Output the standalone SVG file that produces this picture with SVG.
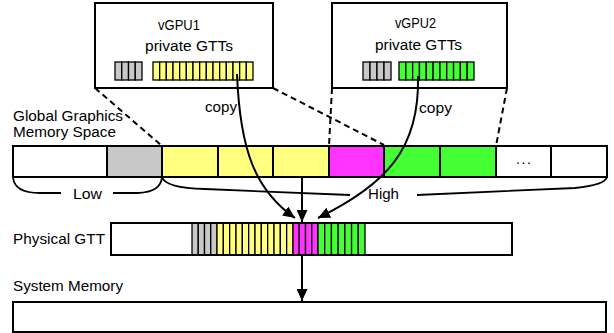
<svg xmlns="http://www.w3.org/2000/svg" width="614" height="333" viewBox="0 0 614 333">
<style>
  text{font-family:"Liberation Sans",Arial,sans-serif;font-size:14px;fill:#000}
  .box{fill:#fff;stroke:#000;stroke-width:2}
  .c{stroke:#000;stroke-width:2}
  .s{stroke:#000;stroke-width:1.3}
  .gy{fill:#c8c8c8}.yl{fill:#ffff80}.mg{fill:#ff33ff}.gr{fill:#44ff33}.wh{fill:#fff}
  .dash{fill:none;stroke:#000;stroke-width:2;stroke-dasharray:6 4}
  .ln{fill:none;stroke:#000;stroke-width:2}
  .br{fill:none;stroke:#000;stroke-width:1.8}
</style>
<defs>
  <marker id="ah" viewBox="0 0 12 11" refX="12" refY="5.5" markerWidth="12" markerHeight="11" orient="auto" markerUnits="userSpaceOnUse">
    <path d="M0,0 L12,5.5 L0,11 z" fill="#000"/>
  </marker>
</defs>

<g id="vgpu1">
  <rect class="box" x="95" y="3" width="178" height="85"/>
  <text x="158" y="30" textLength="42" lengthAdjust="spacingAndGlyphs">vGPU1</text>
  <text x="145" y="51" textLength="88" lengthAdjust="spacingAndGlyphs">private GTTs</text>
  <g class="s gy">
    <rect x="115" y="62" width="6.75" height="18"/><rect x="121.75" y="62" width="6.75" height="18"/>
    <rect x="128.5" y="62" width="6.75" height="18"/><rect x="135.25" y="62" width="6.75" height="18"/>
  </g>
  <g class="s yl">
    <rect x="153" y="62" width="6.67" height="18"/><rect x="159.67" y="62" width="6.67" height="18"/>
    <rect x="166.33" y="62" width="6.67" height="18"/><rect x="173" y="62" width="6.67" height="18"/>
    <rect x="179.67" y="62" width="6.67" height="18"/><rect x="186.33" y="62" width="6.67" height="18"/>
    <rect x="193" y="62" width="6.67" height="18"/><rect x="199.67" y="62" width="6.67" height="18"/>
    <rect x="206.33" y="62" width="6.67" height="18"/><rect x="213" y="62" width="6.67" height="18"/>
    <rect x="219.67" y="62" width="6.67" height="18"/><rect x="226.33" y="62" width="6.67" height="18"/>
    <rect x="233" y="62" width="6.67" height="18"/><rect x="239.67" y="62" width="6.67" height="18"/>
    <rect x="246.33" y="62" width="6.67" height="18"/>
  </g>
</g>

<g id="vgpu2">
  <rect class="box" x="332" y="3" width="175" height="85"/>
  <text x="395" y="28" textLength="41" lengthAdjust="spacingAndGlyphs">vGPU2</text>
  <text x="375" y="50" textLength="87" lengthAdjust="spacingAndGlyphs">private GTTs</text>
  <g class="s gy">
    <rect x="363" y="62" width="7" height="18"/><rect x="370" y="62" width="7" height="18"/>
    <rect x="377" y="62" width="7" height="18"/><rect x="384" y="62" width="7" height="18"/>
  </g>
  <g class="s gr">
    <rect x="399" y="62" width="6.82" height="18"/><rect x="405.82" y="62" width="6.82" height="18"/>
    <rect x="412.64" y="62" width="6.82" height="18"/><rect x="419.45" y="62" width="6.82" height="18"/>
    <rect x="426.27" y="62" width="6.82" height="18"/><rect x="433.09" y="62" width="6.82" height="18"/>
    <rect x="439.91" y="62" width="6.82" height="18"/><rect x="446.73" y="62" width="6.82" height="18"/>
    <rect x="453.55" y="62" width="6.82" height="18"/><rect x="460.36" y="62" width="6.82" height="18"/>
    <rect x="467.18" y="62" width="6.82" height="18"/>
  </g>
</g>

<g id="global-memory">
  <text x="13" y="121" textLength="110" lengthAdjust="spacingAndGlyphs">Global Graphics</text>
  <text x="13" y="137" textLength="103" lengthAdjust="spacingAndGlyphs">Memory Space</text>
  <rect class="c wh" x="13" y="146" width="94" height="31"/>
  <rect class="c gy" x="107" y="146" width="55" height="31"/>
  <rect class="c yl" x="162" y="146" width="56" height="31"/>
  <rect class="c yl" x="218" y="146" width="55" height="31"/>
  <rect class="c yl" x="273" y="146" width="56" height="31"/>
  <rect class="c mg" x="329" y="146" width="55" height="31"/>
  <rect class="c gr" x="384" y="146" width="56" height="31"/>
  <rect class="c gr" x="440" y="146" width="56" height="31"/>
  <rect class="c wh" x="496" y="146" width="55" height="31"/>
  <rect class="c wh" x="551" y="146" width="56" height="31"/>
  <text x="516" y="164" textLength="15" lengthAdjust="spacing">...</text>
</g>

<g id="braces">
  <path class="br" d="M13,177 Q14,193 40,193 L61,193"/>
  <path class="br" d="M113,193 L138,193 Q161,192 162,177"/>
  <text x="73" y="199" textLength="29" lengthAdjust="spacingAndGlyphs">Low</text>
  <path class="br" d="M162,177 Q165,188 205,189 L350,195"/>
  <path class="br" d="M417,195 L575,188 Q605,185 607,177"/>
  <text x="368" y="199" textLength="31" lengthAdjust="spacingAndGlyphs">High</text>
</g>

<g id="physical-gtt">
  <text x="13" y="244" textLength="92" lengthAdjust="spacingAndGlyphs">Physical GTT</text>
  <rect class="box" x="111" y="223" width="401" height="32"/>
  <g class="s gy">
    <rect x="192" y="223" width="6.25" height="32"/><rect x="198.25" y="223" width="6.25" height="32"/>
    <rect x="204.5" y="223" width="6.25" height="32"/><rect x="210.75" y="223" width="6.25" height="32"/>
  </g>
  <g class="s yl">
    <rect x="217" y="223" width="6.33" height="32"/><rect x="223.33" y="223" width="6.33" height="32"/>
    <rect x="229.67" y="223" width="6.33" height="32"/><rect x="236" y="223" width="6.33" height="32"/>
    <rect x="242.33" y="223" width="6.33" height="32"/><rect x="248.67" y="223" width="6.33" height="32"/>
    <rect x="255" y="223" width="6.33" height="32"/><rect x="261.33" y="223" width="6.33" height="32"/>
    <rect x="267.67" y="223" width="6.33" height="32"/><rect x="274" y="223" width="6.33" height="32"/>
    <rect x="280.33" y="223" width="6.33" height="32"/><rect x="286.67" y="223" width="6.33" height="32"/>
  </g>
  <g class="s mg">
    <rect x="293" y="223" width="6.25" height="32"/><rect x="299.25" y="223" width="6.25" height="32"/>
    <rect x="305.5" y="223" width="6.25" height="32"/><rect x="311.75" y="223" width="6.25" height="32"/>
  </g>
  <g class="s gr">
    <rect x="318" y="223" width="6.71" height="32"/><rect x="324.71" y="223" width="6.71" height="32"/>
    <rect x="331.43" y="223" width="6.71" height="32"/><rect x="338.14" y="223" width="6.71" height="32"/>
    <rect x="344.86" y="223" width="6.71" height="32"/><rect x="351.57" y="223" width="6.71" height="32"/>
    <rect x="358.29" y="223" width="6.71" height="32"/>
  </g>
  <rect x="111" y="223" width="401" height="32" fill="none" stroke="#000" stroke-width="2"/>
</g>

<g id="system-memory">
  <text x="13" y="291" textLength="110" lengthAdjust="spacingAndGlyphs">System Memory</text>
  <rect class="box" x="13" y="302" width="593" height="30"/>
</g>

<g id="connectors">
  <path class="dash" d="M95,88 L162,146"/>
  <path class="dash" d="M273,88 L384,145"/>
  <path class="dash" d="M332,88 L329,146"/>
  <path class="dash" d="M507,88 L496,146"/>
  <path class="ln" d="M302,177 L302,222" marker-end="url(#ah)"/>
  <path class="ln" d="M302,255 L302,301" marker-end="url(#ah)"/>
  <path class="ln" d="M237,74 C240,150 255,190 295,218" marker-end="url(#ah)"/>
  <path class="ln" d="M418,76 C420,150 385,185 318,218" marker-end="url(#ah)"/>
  <text x="205" y="112" textLength="32" lengthAdjust="spacingAndGlyphs">copy</text>
  <text x="419" y="113" textLength="33" lengthAdjust="spacingAndGlyphs">copy</text>
</g>
</svg>
